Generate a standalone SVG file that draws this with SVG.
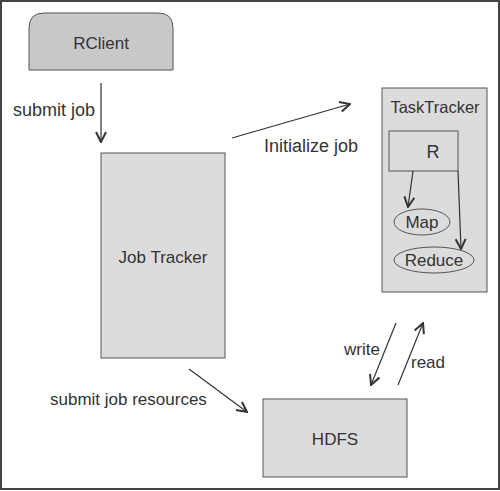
<svg xmlns="http://www.w3.org/2000/svg" width="500" height="491" viewBox="0 0 500 491">
<style>
text{font-family:"Liberation Sans",Arial,sans-serif;fill:#333;font-size:18px}
.c{text-anchor:middle}
.s16{font-size:16.5px}
.s17{font-size:17px}
.box{fill:#dcdcdc;stroke:#555;stroke-width:1}
.conn{stroke:#333;stroke-width:1.2;fill:none;marker-end:url(#ah)}
</style>
<defs>
<marker id="ah" viewBox="0 0 12 12" refX="11" refY="6" markerWidth="12" markerHeight="12" markerUnits="userSpaceOnUse" orient="auto">
<path d="M1,1 L11,6 L1,11" fill="none" stroke="#333" stroke-width="2"/>
</marker>
</defs>
<rect x="0" y="0" width="500" height="491" fill="#fff"/>
<rect x="1" y="1" width="498" height="488" fill="none" stroke="#444" stroke-width="2"/>
<g id="rclient">
<path d="M29,70 V28 Q29,13 44,13 H158 Q173,13 173,28 V70 Z" fill="#c8c8c8" stroke="#555"/>
<text class="c s17" x="101" y="49">RClient</text>
</g>
<g id="jobtracker">
<rect class="box" x="101" y="153" width="124" height="205"/>
<text class="c s17" x="163" y="263">Job Tracker</text>
</g>
<g id="tasktracker">
<rect class="box" x="382" y="88" width="105" height="204"/>
<text class="c s16" x="435" y="113">TaskTracker</text>
</g>
<g id="r">
<rect class="box" x="389" y="131" width="69" height="40"/>
<text class="c" x="433" y="158">R</text>
</g>
<g id="map">
<ellipse class="box" cx="422" cy="222" rx="28" ry="13"/>
<text class="c s17" x="422" y="228">Map</text>
</g>
<g id="reduce">
<ellipse class="box" cx="434" cy="260" rx="40" ry="13"/>
<text class="c s17" x="434" y="266">Reduce</text>
</g>
<g id="hdfs">
<rect class="box" x="263" y="399" width="144" height="78"/>
<text class="c s17" x="335" y="445">HDFS</text>
</g>
<g id="connectors">
<line class="conn" x1="101" y1="83" x2="101" y2="142"/>
<line class="conn" x1="232" y1="138" x2="350" y2="104"/>
<line class="conn" x1="413" y1="171" x2="408" y2="207"/>
<line class="conn" x1="458" y1="171" x2="461" y2="249"/>
<line class="conn" x1="189" y1="369" x2="247" y2="412"/>
<line class="conn" x1="396" y1="323" x2="371" y2="385"/>
<line class="conn" x1="398" y1="385" x2="423" y2="323"/>
</g>
<g id="labels">
<text x="13" y="116">submit job</text>
<text x="264" y="152">Initialize job</text>
<text class="s17" x="50" y="405">submit job resources</text>
<text class="s17" x="344" y="355">write</text>
<text class="s17" x="411" y="368">read</text>
</g>
</svg>
